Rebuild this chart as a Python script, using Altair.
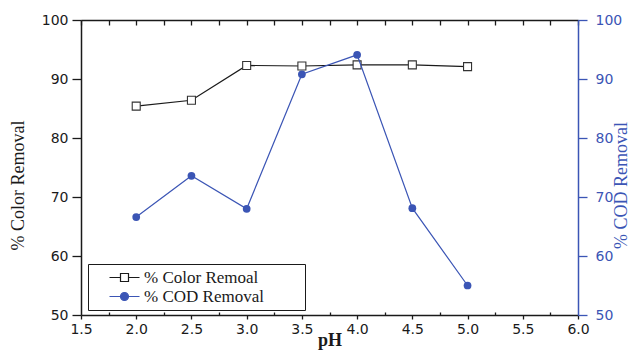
import altair as alt
import pandas as pd

# ---- data ----
ph = [2.0, 2.5, 3.0, 3.5, 4.0, 4.5, 5.0]
color_removal = [85.4, 86.4, 92.3, 92.2, 92.4, 92.4, 92.1]
cod_removal = [66.6, 73.6, 68.0, 90.8, 94.1, 68.1, 55.0]
series_names = ["% Color Remoal", "% COD Removal"]
x_major = [1.5, 2.0, 2.5, 3.0, 3.5, 4.0, 4.5, 5.0, 5.5, 6.0]
x_minor = [1.75, 2.25, 2.75, 3.25, 3.75, 4.25, 4.75, 5.25, 5.75]
x_quarter = sorted(x_major + x_minor)
y_ticks = [50, 55, 60, 65, 70, 75, 80, 85, 90, 95, 100]

BLUE = "#3b55b5"
BLACK = "#1a1a1a"

df = pd.DataFrame({"pH": ph, "color": color_removal, "cod": cod_removal})
leg = pd.DataFrame({"series": series_names})

xscale = alt.Scale(domain=[1.5, 6.0], nice=False, zero=False)
yscale = alt.Scale(domain=[50, 100], nice=False, zero=False)

major_test = "datum.value % 10 == 0"

# ---- left group: colour removal + legend ----
x_bottom = alt.X(
    "pH:Q", scale=xscale,
    axis=alt.Axis(orient="bottom", values=x_major, format=".1f", title="pH",
                  tickSize=4, labelPadding=3, domainColor=BLACK, domainWidth=1.5,
                  tickColor=BLACK, tickWidth=1.3, labelColor=BLACK, labelFont="DejaVu Sans",
                  labelFontSize=14, labelFlush=False, labelOverlap=False,
                  titleFont="Liberation Serif", titleFontSize=18, titleFontWeight="bold",
                  titleColor=BLACK, titleY=30, titleBaseline="alphabetic", grid=False))
y_left = alt.Y(
    "color:Q", scale=yscale,
    axis=alt.Axis(orient="left", values=y_ticks,
                  labelExpr=f"{major_test} ? datum.label : ''",
                  tickSize={"condition": {"test": major_test, "value": 9}, "value": 5},
                  labelPadding=4, domainColor=BLACK, domainWidth=1.5, tickColor=BLACK,
                  tickWidth=1.3, labelColor=BLACK, labelFont="DejaVu Sans", labelFontSize=14,
                  labelOverlap=False, title="% Color Removal", titleFont="Liberation Serif",
                  titleFontSize=18, titleFontWeight="normal", titleColor=BLACK,
                  titleX=-63, titleY=165, titleAngle=270, titleBaseline="middle",
                  titleAlign="center", grid=False))

color_line = alt.Chart(df).mark_line(color=BLACK, strokeWidth=1.2).encode(x=x_bottom, y=y_left)
color_pts = alt.Chart(df).mark_point(shape="square", size=64, filled=False, fill="white",
                                     fillOpacity=1, stroke="#333", strokeWidth=1.1,
                                     opacity=1).encode(x="pH:Q", y="color:Q")

sq_path = "M-3.75,0L-1,0M1,0L3.75,0M-1,-1L1,-1L1,1L-1,1Z"
ci_path = "M-3.75,0L3.75,0M1,0A1,1 0 1,1 -1,0A1,1 0 1,1 1,0Z"
leg_label = "datum.label + '\u2800\u2800\u2800'"
legend_layer = alt.Chart(leg).mark_point(opacity=0, filled=False).encode(
    color=alt.Color("series:N", scale=alt.Scale(domain=series_names, range=[BLACK, BLUE]),
                    legend=alt.Legend(title=None, labelExpr=leg_label)),
    fill=alt.Fill("series:N", scale=alt.Scale(domain=series_names, range=["white", BLUE]),
                  legend=alt.Legend(title=None, labelExpr=leg_label)),
    shape=alt.Shape("series:N", scale=alt.Scale(domain=series_names, range=[sq_path, ci_path]),
                    legend=alt.Legend(title=None, labelExpr=leg_label)),
)

left = alt.layer(color_line, color_pts, legend_layer)

# ---- right group: COD removal ----
x_top = alt.X("pH:Q", scale=xscale,
              axis=alt.Axis(orient="top", ticks=False, labels=False, title=None,
                            domainColor=BLACK, domainWidth=1.5, grid=False))
y_right = alt.Y(
    "cod:Q", scale=yscale,
    axis=alt.Axis(orient="right", values=y_ticks,
                  labelExpr=f"{major_test} ? datum.label : ''",
                  tickSize={"condition": {"test": major_test, "value": 9}, "value": 5},
                  labelPadding=8, domainColor=BLUE, domainWidth=1.5, tickColor=BLUE,
                  tickWidth=1.3, labelColor=BLUE, labelFont="DejaVu Sans", labelFontSize=14,
                  labelOverlap=False, title="% COD Removal", titleFont="Liberation Serif",
                  titleFontSize=18, titleFontWeight="normal", titleColor=BLUE,
                  titleX=43, titleY=165, titleAngle=270, titleBaseline="middle",
                  titleAlign="center", grid=False))
cod_line = alt.Chart(df).mark_line(color=BLUE, strokeWidth=1.2).encode(x=x_top, y=y_right)
cod_pts = alt.Chart(df).mark_point(shape="circle", size=60, filled=True, color=BLUE,
                                   opacity=1).encode(x="pH:Q", y="cod:Q")
right = alt.layer(cod_line, cod_pts)

# ---- tick-only helper axes (inward ticks) ----
top_ticks = alt.Chart(df).mark_point(opacity=0).encode(
    x=alt.X("pH:Q", scale=xscale,
            axis=alt.Axis(orient="top", values=x_quarter, offset=-5, domain=False,
                          labels=False, tickSize=5, tickColor=BLACK, tickWidth=1.3,
                          title=None, grid=False)),
    y=alt.Y("color:Q", scale=yscale, axis=None))
bottom_minor = alt.Chart(df).mark_point(opacity=0).encode(
    x=alt.X("pH:Q", scale=xscale,
            axis=alt.Axis(orient="bottom", values=x_minor, offset=-3, domain=False,
                          labels=False, tickSize=3, tickColor=BLACK, tickWidth=1.3,
                          title=None, grid=False)),
    y=alt.Y("color:Q", scale=yscale, axis=None))

chart = alt.layer(left, right, top_ticks, bottom_minor).resolve_scale(
    x="independent", y="independent"
).properties(
    width=497, height=295, autosize="none",
    padding={"left": 73, "top": 12, "right": 53, "bottom": 35},
).configure_view(stroke=None).configure_legend(
    orient="none", legendX=7, legendY=244, strokeColor=BLACK, fillColor="white",
    padding=5, labelFont="Liberation Serif", labelFontSize=17, labelColor=BLACK,
    labelLimit=400, symbolSize=64, symbolStrokeWidth=1.2, symbolOffset=23,
    labelOffset=11, rowPadding=1, symbolOpacity=1,
)

chart.save("out.html", embed_options={"renderer": "svg", "actions": False})
